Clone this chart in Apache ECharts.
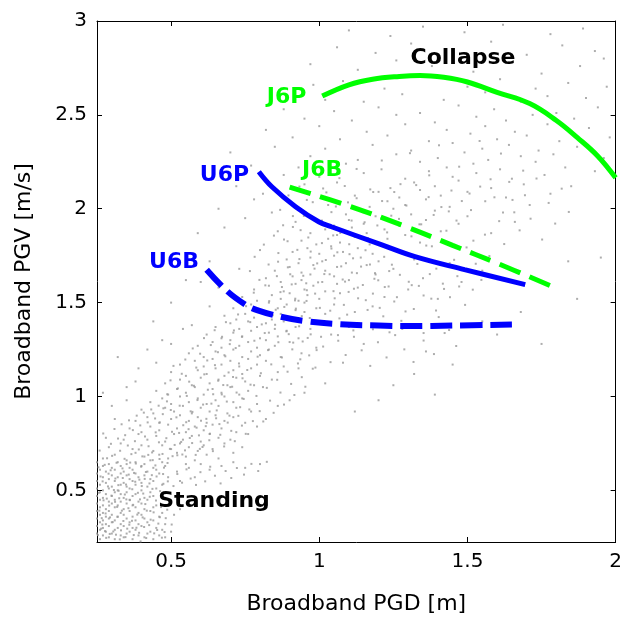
<!DOCTYPE html>
<html><head><meta charset="utf-8">
<script src="https://cdn.jsdelivr.net/npm/echarts@6/dist/echarts.min.js"></script>
<style>html,body{margin:0;padding:0;background:#fff}#c{width:625px;height:620px}</style>
</head><body><div id="c"></div>
<script>
// axis ranges and ticks
const xMin = 0.25, xMax = 2, yMin = 0.225, yMax = 3;
const xTicks = [0.5, 1, 1.5, 2];
const yTicks = [0.5, 1, 1.5, 2, 2.5, 3];
const xTitle = 'Broadband PGD [m]';
const yTitle = 'Broadband PGV [m/s]';

// model curves
const j6pX = [1.01,1.10,1.18,1.27,1.34,1.42,1.50,1.60,1.71,1.80,1.87,1.94,2.0];
const j6pY = [2.60,2.66,2.69,2.705,2.71,2.70,2.675,2.62,2.56,2.47,2.38,2.28,2.165];
const j6bX = [0.90,1.10,1.30,1.45,1.60,1.78];
const j6bY = [2.115,2.015,1.90,1.805,1.71,1.59];
const u6pX = [0.796,0.84,0.92,0.998,1.041,1.209,1.323,1.49,1.695];
const u6pY = [2.197,2.117,2.011,1.931,1.904,1.809,1.745,1.676,1.596];
const u6bX = [0.62,0.69,0.75,0.79,0.87,0.96,1.07,1.20,1.31,1.45,1.65];
const u6bY = [1.675,1.56,1.49,1.46,1.425,1.40,1.385,1.378,1.375,1.378,1.383];

// annotations
const noteText = ['J6P','J6B','U6P','U6B','Collapse','Standing'];
const noteX = [0.89,1.01,0.68,0.51,1.485,0.645];
const noteY = [2.596,2.207,2.176,1.715,2.803,0.441];
const noteColor = ['#00ff00','#00ff00','#0000ff','#0000ff','#000000','#000000'];

// scattered simulation points (x,y pairs)
const cloudCore = [
0.26,0.24,0.29,0.25,0.31,0.24,0.34,0.25,0.37,0.24,0.41,0.25,0.44,0.24,0.48,0.25,
0.25,0.27,0.27,0.26,0.30,0.27,0.33,0.26,0.35,0.27,0.39,0.26,0.42,0.27,0.46,0.26,
0.26,0.29,0.28,0.28,0.31,0.29,0.36,0.28,0.38,0.29,0.43,0.28,0.47,0.29,0.50,0.28,
0.25,0.31,0.27,0.30,0.29,0.31,0.32,0.30,0.34,0.31,0.37,0.30,0.40,0.31,0.45,0.30,
0.26,0.33,0.28,0.32,0.30,0.33,0.33,0.32,0.36,0.33,0.39,0.32,0.42,0.33,0.48,0.32,
0.25,0.35,0.27,0.34,0.29,0.35,0.31,0.34,0.35,0.35,0.38,0.34,0.41,0.35,0.44,0.34,
0.26,0.37,0.28,0.36,0.30,0.37,0.32,0.36,0.34,0.37,0.37,0.36,0.40,0.37,0.46,0.36,0.51,0.37,
0.25,0.39,0.27,0.38,0.29,0.39,0.33,0.38,0.36,0.39,0.39,0.38,0.43,0.39,0.47,0.38,
0.26,0.41,0.28,0.40,0.31,0.41,0.34,0.40,0.38,0.41,0.41,0.40,0.44,0.41,0.53,0.40,
0.25,0.43,0.27,0.42,0.30,0.43,0.32,0.42,0.35,0.43,0.37,0.42,0.40,0.43,0.45,0.42,
0.26,0.45,0.29,0.44,0.31,0.45,0.33,0.44,0.36,0.45,0.39,0.44,0.42,0.45,
0.25,0.47,0.27,0.46,0.30,0.47,0.34,0.46,0.37,0.47,0.41,0.46,0.44,0.47,
0.26,0.49,0.28,0.48,0.31,0.49,0.33,0.48,0.35,0.49,0.38,0.48,0.43,0.49,
0.25,0.51,0.27,0.50,0.29,0.51,0.32,0.50,0.36,0.51,0.40,0.50,0.45,0.51,
0.26,0.53,0.30,0.52,0.33,0.53,0.35,0.52,0.38,0.53,0.42,0.52,0.47,0.53,
0.25,0.55,0.28,0.54,0.31,0.55,0.34,0.54,0.37,0.55,0.40,0.54,0.44,0.55,0.53,0.55,
0.27,0.57,0.29,0.56,0.32,0.57,0.36,0.56,0.39,0.57,0.43,0.56,0.49,0.57,0.58,0.57,
0.25,0.59,0.30,0.58,0.33,0.59,0.35,0.58,0.38,0.59,0.41,0.58,0.46,0.59,
0.26,0.61,0.28,0.60,0.31,0.61,0.34,0.60,0.37,0.61,0.42,0.60,0.45,0.61,0.52,0.60,0.63,0.61,
0.27,0.63,0.30,0.62,0.33,0.63,0.36,0.62,0.40,0.63,0.44,0.62,0.48,0.63,0.56,0.62,0.67,0.63,0.75,0.62,
0.25,0.65,0.29,0.64,0.32,0.65,0.35,0.64,0.38,0.65,0.41,0.64,0.47,0.65,0.55,0.64,0.60,0.64,0.71,0.65,0.80,0.64
];
const cloudCore2 = [
0.253,0.262,0.268,0.318,0.281,0.247,0.294,0.356,0.305,0.281,0.318,0.412,0.327,0.239,0.339,0.337,0.352,0.296,0.361,0.448,
0.374,0.262,0.386,0.371,0.397,0.228,0.409,0.305,0.418,0.392,0.431,0.344,0.443,0.271,0.457,0.323,0.469,0.248,0.482,0.352,
0.258,0.392,0.272,0.447,0.287,0.521,0.299,0.472,0.312,0.563,0.323,0.498,0.336,0.617,0.348,0.531,0.357,0.584,0.369,0.506,
0.381,0.643,0.393,0.557,0.406,0.483,0.415,0.598,0.427,0.537,0.438,0.661,0.451,0.574,0.463,0.496,0.476,0.621,0.489,0.548,
0.262,0.574,0.276,0.636,0.289,0.589,0.301,0.684,0.316,0.647,0.328,0.711,0.343,0.668,0.354,0.739,0.366,0.693,0.378,0.762,
0.391,0.718,0.403,0.681,0.412,0.787,0.424,0.735,0.436,0.702,0.448,0.809,0.459,0.756,0.471,0.694,0.484,0.778,0.496,0.721,
0.256,0.487,0.266,0.352,0.277,0.283,0.291,0.419,0.303,0.331,0.314,0.264,0.325,0.458,0.334,0.392,0.346,0.251,0.359,0.317,
0.372,0.423,0.383,0.301,0.395,0.452,0.404,0.356,0.416,0.246,0.428,0.466,0.441,0.383,0.453,0.289,0.466,0.411,0.478,0.278,
0.259,0.712,0.271,0.803,0.284,0.671,0.297,0.748,0.309,0.827,0.321,0.776,0.333,0.852,0.345,0.794,0.358,0.873,0.371,0.821,
0.384,0.898,0.396,0.846,0.408,0.914,0.421,0.862,0.433,0.931,0.446,0.883,0.458,0.951,0.472,0.906,0.486,0.974,0.499,0.928,
0.264,0.296,0.279,0.377,0.293,0.268,0.307,0.502,0.319,0.359,0.331,0.287,0.344,0.478,0.356,0.405,0.368,0.338,0.379,0.546,
0.392,0.274,0.401,0.523,0.413,0.427,0.426,0.315,0.437,0.508,0.449,0.446,0.462,0.357,0.474,0.535,0.487,0.397,0.502,0.318,
0.255,0.623,0.269,0.548,0.283,0.456,0.296,0.607,0.311,0.439,0.322,0.528,0.337,0.566,0.349,0.452,0.362,0.648,0.375,0.593,
0.388,0.487,0.399,0.626,0.411,0.561,0.423,0.689,0.435,0.581,0.447,0.633,0.461,0.667,0.473,0.587,0.488,0.646,0.505,0.682,
0.508,0.523,0.521,0.587,0.537,0.541,0.552,0.612,0.566,0.563,0.584,0.529,0.599,0.597,0.615,0.548,0.632,0.626,0.648,0.578,
0.667,0.537,0.684,0.603,0.703,0.566,0.722,0.619,0.746,0.584,0.771,0.641,0.794,0.603,0.823,0.652
];
const cloudBand = [
0.27,0.67,0.31,0.69,0.35,0.66,0.38,0.70,0.41,0.68,0.43,0.66,0.46,0.69,0.49,0.67,0.52,0.70,0.55,0.68,0.58,0.66,0.62,0.69,0.66,0.67,0.71,0.70,
0.29,0.73,0.33,0.75,0.37,0.72,0.40,0.74,0.44,0.71,0.47,0.74,0.50,0.72,0.53,0.75,0.56,0.73,0.59,0.71,0.61,0.74,0.64,0.72,0.68,0.75,0.74,0.73,
0.28,0.78,0.34,0.77,0.39,0.80,0.42,0.77,0.45,0.79,0.48,0.76,0.51,0.80,0.54,0.77,0.57,0.79,0.60,0.76,0.63,0.80,0.66,0.78,0.70,0.77,0.76,0.80,
0.36,0.83,0.40,0.81,0.43,0.84,0.46,0.82,0.49,0.85,0.52,0.83,0.55,0.81,0.58,0.84,0.61,0.82,0.64,0.85,0.67,0.83,0.72,0.81,0.79,0.84,
0.31,0.88,0.38,0.87,0.42,0.89,0.46,0.86,0.50,0.88,0.53,0.90,0.56,0.87,0.59,0.89,0.62,0.86,0.65,0.90,0.68,0.87,0.71,0.89,0.75,0.86,0.82,0.88,
0.40,0.93,0.44,0.91,0.48,0.94,0.51,0.92,0.54,0.95,0.57,0.91,0.60,0.94,0.63,0.92,0.66,0.95,0.69,0.91,0.72,0.94,0.77,0.92,0.86,0.95,
0.35,0.98,0.43,0.97,0.47,0.99,0.50,0.96,0.53,1.00,0.56,0.97,0.59,0.99,0.62,0.96,0.65,0.98,0.68,1.00,0.71,0.97,0.74,0.99,0.79,0.96,0.90,0.98,
0.45,1.03,0.49,1.01,0.52,1.04,0.55,1.02,0.58,1.05,0.61,1.01,0.64,1.04,0.67,1.02,0.70,1.05,0.73,1.01,0.76,1.03,0.81,1.05,0.95,1.02,
0.38,1.08,0.48,1.07,0.53,1.09,0.57,1.06,0.60,1.10,0.63,1.07,0.66,1.09,0.69,1.06,0.72,1.10,0.75,1.08,0.78,1.06,0.84,1.09,1.02,1.07,
0.50,1.13,0.55,1.11,0.59,1.14,0.62,1.12,0.65,1.15,0.68,1.11,0.71,1.14,0.74,1.12,0.77,1.15,0.80,1.11,0.86,1.13,0.93,1.15,
0.45,1.18,0.53,1.17,0.58,1.19,0.61,1.16,0.64,1.20,0.67,1.17,0.70,1.19,0.73,1.16,0.76,1.20,0.79,1.17,0.82,1.19,0.88,1.16,1.08,1.18,
0.56,1.23,0.61,1.21,0.65,1.24,0.68,1.22,0.71,1.25,0.74,1.21,0.77,1.24,0.80,1.22,0.83,1.25,0.87,1.21,0.94,1.23,
0.50,1.28,0.59,1.27,0.64,1.29,0.67,1.26,0.70,1.30,0.73,1.27,0.76,1.29,0.79,1.26,0.82,1.30,0.85,1.27,0.90,1.29,0.99,1.26,1.15,1.28,
0.62,1.33,0.67,1.31,0.71,1.34,0.74,1.32,0.77,1.35,0.80,1.31,0.83,1.34,0.86,1.32,0.89,1.35,0.93,1.31,1.04,1.33,
0.57,1.38,0.65,1.37,0.70,1.39,0.73,1.36,0.76,1.40,0.79,1.37,0.82,1.39,0.85,1.36,0.88,1.40,0.92,1.37,0.97,1.36,1.10,1.37,1.28,1.36,
0.68,1.43,0.72,1.41,0.75,1.44,0.78,1.42,0.81,1.45,0.84,1.41,0.87,1.44,0.90,1.42,0.95,1.45,1.02,1.44,1.12,1.45,
0.63,1.48,0.71,1.47,0.77,1.49,0.80,1.46,0.83,1.50,0.86,1.47,0.89,1.49,0.92,1.46,0.95,1.50,0.99,1.47,1.05,1.49,1.18,1.48,
0.74,1.53,0.79,1.51,0.84,1.54,0.87,1.52,0.90,1.55,0.93,1.51,0.96,1.54,1.00,1.52,1.07,1.55,1.22,1.53,1.40,1.52,
0.66,1.58,0.78,1.57,0.83,1.59,0.88,1.56,0.92,1.60,0.95,1.57,0.98,1.59,1.02,1.56,1.06,1.60,1.13,1.58,1.30,1.57,
0.82,1.63,0.87,1.61,0.91,1.64,0.94,1.62,0.97,1.65,1.01,1.61,1.05,1.64,1.10,1.62,1.19,1.65,1.35,1.63,1.48,1.61,
0.73,1.68,0.85,1.67,0.90,1.69,0.94,1.66,0.98,1.70,1.02,1.67,1.06,1.69,1.11,1.66,1.16,1.70,1.25,1.68,1.55,1.67,
0.89,1.73,0.93,1.71,0.97,1.74,1.01,1.72,1.05,1.75,1.09,1.71,1.14,1.74,1.20,1.72,1.32,1.73,1.44,1.71,
0.80,1.78,0.91,1.77,0.96,1.79,1.00,1.76,1.04,1.80,1.08,1.77,1.13,1.79,1.18,1.76,1.27,1.78,1.38,1.80,
0.94,1.83,0.99,1.81,1.03,1.84,1.07,1.82,1.12,1.85,1.17,1.81,1.23,1.84,1.34,1.82,1.52,1.83,
0.86,1.88,0.97,1.87,1.02,1.89,1.06,1.86,1.11,1.90,1.16,1.87,1.22,1.89,1.29,1.86,1.41,1.88,1.58,1.87,
0.92,1.93,1.05,1.91,1.10,1.94,1.15,1.92,1.21,1.95,1.27,1.91,1.36,1.94,1.47,1.92,1.66,1.93,
0.84,1.98,1.09,1.97,1.14,1.99,1.19,1.96,1.25,2.00,1.31,1.97,1.39,1.99,1.50,1.96,1.62,1.98
];
const cloudBand2 = [
0.512,0.742,0.527,0.806,0.538,0.691,0.551,0.863,0.563,0.779,0.572,0.918,0.586,0.834,0.597,0.721,0.608,0.957,0.619,0.881,
0.631,0.802,0.642,1.012,0.654,0.926,0.663,0.853,0.676,1.061,0.688,0.973,0.697,0.898,0.709,1.104,0.721,1.021,0.733,0.943,
0.518,0.889,0.529,0.951,0.541,0.847,0.553,1.003,0.566,0.921,0.577,1.057,0.589,0.981,0.601,0.871,0.612,1.118,0.624,1.036,
0.636,0.962,0.648,1.167,0.659,1.084,0.671,1.011,0.683,1.214,0.694,1.128,0.706,1.052,0.718,1.258,0.729,1.176,0.741,1.097,
0.745,0.987,0.757,1.141,0.768,1.063,0.781,1.297,0.792,1.212,0.803,1.124,0.816,1.338,0.827,1.247,0.838,1.171,0.851,1.382,
0.862,1.289,0.874,1.208,0.886,1.423,0.897,1.332,0.909,1.251,0.921,1.468,0.932,1.374,0.944,1.293,0.957,1.509,0.968,1.418,
0.503,0.812,0.521,0.687,0.534,0.758,0.547,0.713,0.559,0.826,0.571,0.752,0.583,0.689,0.594,0.793,0.606,0.731,0.617,0.842,
0.629,0.767,0.641,0.709,0.652,0.884,0.666,0.796,0.679,0.734,0.691,0.861,0.703,0.817,0.715,0.762,0.727,0.897,0.739,0.845,
0.752,0.801,0.764,0.931,0.776,0.869,0.788,1.003,0.799,0.922,0.811,0.867,0.823,1.046,0.834,0.978,0.846,0.913,0.858,1.089,
0.869,1.021,0.881,0.957,0.893,1.132,0.905,1.067,0.916,1.008,0.928,1.176,0.941,1.103,0.953,1.052,0.966,1.219,0.978,1.148,
0.462,0.862,0.474,0.937,0.487,1.012,0.498,1.086,0.508,1.163,0.523,1.043,0.536,1.121,0.548,1.197,0.561,1.079,0.573,1.256,
0.585,1.154,0.598,1.228,0.611,1.311,0.622,1.192,0.634,1.274,0.647,1.353,0.658,1.236,0.672,1.318,0.685,1.396,0.698,1.279
];
const cloudBand3 = [
0.712,1.352,0.726,1.437,0.739,1.318,0.753,1.481,0.767,1.396,0.779,1.553,0.793,1.467,0.806,1.384,0.818,1.592,0.831,1.508,
0.843,1.433,0.857,1.641,0.869,1.556,0.882,1.477,0.894,1.688,0.907,1.597,0.919,1.521,0.933,1.732,0.946,1.643,0.958,1.566,
0.971,1.772,0.984,1.681,0.996,1.608,1.009,1.817,1.022,1.727,1.035,1.651,1.047,1.858,1.061,1.768,1.074,1.693,1.087,1.612,
1.101,1.811,1.114,1.736,1.127,1.657,1.141,1.846,1.156,1.779,1.171,1.703,1.186,1.627,1.202,1.818,1.219,1.744,1.236,1.668,
0.991,1.247,1.006,1.318,1.021,1.386,1.037,1.457,1.052,1.523,1.068,1.416,1.083,1.488,1.099,1.557,1.115,1.352,1.131,1.523,
1.147,1.594,1.163,1.461,1.181,1.548,1.199,1.619,1.216,1.427,1.234,1.586,1.253,1.506,1.272,1.648,1.291,1.453,1.312,1.593,
0.766,1.668,0.782,1.744,0.798,1.621,0.813,1.809,0.829,1.703,0.847,1.857,0.862,1.764,0.878,1.912,0.893,1.827,0.911,1.961,
1.331,1.706,1.352,1.538,1.373,1.652,1.394,1.458,1.417,1.601,1.441,1.529,1.466,1.641,1.492,1.488,1.518,1.569,1.547,1.621
];
const cloudMid = [
0.853,1.462,0.861,1.718,0.868,1.994,0.874,1.583,0.881,1.836,0.889,1.347,0.896,2.071,0.902,1.651,0.911,1.903,0.918,1.512,
0.926,1.781,0.933,2.118,0.941,1.428,0.948,1.962,0.956,1.603,0.963,1.847,0.971,1.331,0.978,2.035,0.986,1.548,0.993,1.709,
1.002,1.472,1.009,1.937,1.017,1.652,1.024,2.087,1.032,1.395,1.041,1.788,1.048,1.561,1.056,2.012,1.063,1.327,1.071,1.871,
1.079,1.623,1.086,2.121,1.094,1.436,1.102,1.758,1.109,1.937,1.117,1.574,1.126,2.056,1.133,1.391,1.141,1.692,1.149,1.981,
1.157,1.513,1.164,1.844,1.172,2.103,1.181,1.358,1.188,1.657,1.196,1.911,1.204,1.472,1.212,2.041,1.221,1.583,1.229,1.874,
1.237,1.342,1.245,1.702,1.253,2.089,1.262,1.529,1.269,1.946,1.277,1.403,1.286,1.768,1.294,2.017,1.302,1.611,1.311,1.853,
1.319,1.466,1.327,2.126,1.336,1.589,1.344,1.917,1.352,1.338,1.361,1.804,1.369,2.062,1.378,1.521,1.386,1.967,1.395,1.681,
1.403,1.423,1.412,2.009,1.421,1.573,1.429,1.883,1.438,1.354,1.446,2.097,1.455,1.728,1.463,1.937,1.472,1.586,1.481,2.041,
1.497,1.794,1.512,1.993,1.528,1.707,1.543,2.118,1.559,1.862,1.574,1.748,1.591,2.061,1.607,1.934,1.624,1.812,1.641,2.143,
1.658,1.981,1.676,1.885,1.694,2.072,1.713,1.947,1.733,2.161,1.752,1.836,1.774,2.031,1.796,1.921,1.818,2.107,1.842,1.983,
0.912,1.287,0.936,1.198,0.961,1.312,0.987,1.154,1.013,1.266,1.038,1.183,1.064,1.297,1.089,1.221,1.117,1.318,1.143,1.246,
1.172,1.163,1.198,1.289,1.227,1.208,1.256,1.327,1.287,1.251,1.318,1.184,1.352,1.298,1.387,1.226,1.423,1.338,1.462,1.269
];
const cloudUpper = [
0.90,2.03,1.03,2.02,1.17,2.01,1.23,2.04,1.29,2.02,1.36,2.05,1.44,2.01,1.56,2.04,1.71,2.02,
0.81,2.08,1.12,2.07,1.20,2.09,1.27,2.06,1.34,2.10,1.41,2.07,1.50,2.09,1.63,2.06,1.78,2.08,
0.95,2.13,1.06,2.14,1.24,2.11,1.32,2.14,1.39,2.12,1.47,2.15,1.58,2.11,1.69,2.13,1.85,2.12,
0.88,2.18,1.00,2.17,1.15,2.19,1.29,2.16,1.37,2.20,1.45,2.17,1.53,2.19,1.65,2.16,1.76,2.18,1.93,2.20,
0.77,2.23,0.93,2.22,1.09,2.24,1.21,2.21,1.34,2.25,1.43,2.22,1.52,2.24,1.61,2.21,1.73,2.25,1.83,2.22,
0.70,2.30,0.97,2.28,1.13,2.26,1.26,2.29,1.40,2.27,1.49,2.30,1.57,2.26,1.68,2.28,1.79,2.29,1.96,2.27,
0.85,2.33,1.02,2.32,1.18,2.34,1.31,2.31,1.45,2.35,1.55,2.32,1.64,2.34,1.74,2.31,1.87,2.33,
0.91,2.38,1.07,2.37,1.23,2.39,1.37,2.36,1.51,2.40,1.60,2.37,1.70,2.39,1.81,2.36,1.98,2.38,
0.82,2.42,1.00,2.44,1.16,2.41,1.29,2.45,1.43,2.42,1.56,2.44,1.66,2.41,1.77,2.45,1.91,2.43,
0.95,2.48,1.11,2.47,1.26,2.50,1.39,2.46,1.53,2.49,1.63,2.47,1.72,2.50,1.86,2.48,
0.88,2.53,1.05,2.52,1.20,2.54,1.34,2.51,1.47,2.55,1.59,2.53,1.80,2.51,1.94,2.54,
1.02,2.58,1.15,2.57,1.28,2.61,1.42,2.58,1.56,2.62,1.68,2.57,1.77,2.60,1.90,2.59,
0.98,2.66,1.08,2.68,1.22,2.64,1.50,2.65,1.61,2.69,1.73,2.64,1.84,2.67,1.97,2.65,
0.97,2.77,1.13,2.74,1.26,2.79,1.38,2.76,1.52,2.73,1.64,2.78,1.75,2.72,1.88,2.76,1.96,2.80,
1.06,2.86,1.19,2.83,1.31,2.88,1.45,2.84,1.58,2.89,1.70,2.82,1.82,2.87,1.93,2.84,
1.10,2.95,1.24,2.92,1.35,2.97,1.49,2.94,1.62,2.98,1.78,2.93,1.89,2.96,
0.937,1.886,0.958,2.047,0.981,1.944,1.013,2.108,1.041,1.982,1.068,2.163,1.097,2.034,1.126,2.212,1.153,1.928,1.182,2.089,
1.211,2.257,1.243,1.963,1.274,2.131,1.306,2.296,1.338,1.917,1.371,2.178,1.404,2.338,1.437,1.986,1.472,2.224,1.507,2.081,
1.541,2.361,1.578,2.157,1.613,2.294,1.652,2.047,1.688,2.203
];
const cloudSparse = [
0.32,1.21,0.39,1.15,0.47,1.30,0.54,1.36,0.30,0.95,0.27,1.02,0.35,1.05,0.42,1.25,0.44,1.40,0.50,1.50,
0.59,1.87,0.60,1.61,0.72,2.12,0.55,1.62,0.63,1.72,0.68,1.90,0.66,2.00,0.75,1.95,0.78,2.05,
1.39,1.01,1.75,1.28,1.32,1.12,1.25,1.06,1.45,1.17,1.60,1.33,1.68,1.45,1.95,1.74,1.84,1.72,1.87,1.52,
1.20,0.98,1.12,0.92,1.55,1.40,1.36,1.24
];

function pairs(flat){const out=[];for(let i=0;i<flat.length;i+=2)out.push([flat[i],flat[i+1]]);return out;}
function zip(xs,ys){return xs.map((x,i)=>[x,ys[i]]);}

const chart = echarts.init(document.getElementById('c'), null, {renderer:'canvas'});
const FONT = 'DejaVu Sans';
const xAxisCfg = (pos, labels) => ({
  type:'value', position:pos, min:xMin, max:xMax,
  axisLine:{show:true, onZero:false, lineStyle:{color:'#000', width:1}},
  splitLine:{show:false},
  axisTick:{show:true, inside:true, length:5, lineStyle:{color:'#000'}, customValues:xTicks},
  axisLabel:{show:labels, customValues:xTicks, color:'#000', fontFamily:FONT, fontSize:20, margin:10},
  name: labels ? xTitle : '', nameLocation:'middle', nameGap:51,
  nameTextStyle:{color:'#000', fontFamily:FONT, fontSize:22}
});
const yAxisCfg = (pos, labels) => ({
  type:'value', position:pos, min:yMin, max:yMax,
  axisLine:{show:true, onZero:false, lineStyle:{color:'#000', width:1}},
  splitLine:{show:false},
  axisTick:{show:true, inside:true, length:5, lineStyle:{color:'#000'}, customValues:yTicks},
  axisLabel:{show:labels, customValues:yTicks, color:'#000', fontFamily:FONT, fontSize:20, margin:10},
  name: labels ? yTitle : '', nameLocation:'middle', nameGap:62,
  nameTextStyle:{color:'#000', fontFamily:FONT, fontSize:22}
});

const dots = [cloudCore, cloudCore2, cloudBand, cloudBand2, cloudBand3, cloudMid, cloudUpper, cloudSparse]
  .reduce((acc, a) => acc.concat(pairs(a)), []);

chart.setOption({
  animation:false,
  backgroundColor:'#fff',
  grid:{left:97, right:5, top:21, bottom:77},
  xAxis:[xAxisCfg('bottom', true), xAxisCfg('top', false)],
  yAxis:[yAxisCfg('left', true), yAxisCfg('right', false)],
  series:[
    {type:'scatter', data:dots, symbol:'rect', symbolSize:2, silent:true, z:1,
     itemStyle:{color:'#999999'}},
    {type:'line', data:zip(u6bX,u6bY), smooth:0.4, showSymbol:false, silent:true, z:3,
     lineStyle:{color:'#0000ff', width:6, type:[22,8], cap:'butt'}},
    {type:'line', data:zip(u6pX,u6pY), smooth:0.4, showSymbol:false, silent:true, z:3,
     lineStyle:{color:'#0000ff', width:5}},
    {type:'line', data:zip(j6bX,j6bY), smooth:0.4, showSymbol:false, silent:true, z:3,
     lineStyle:{color:'#00ff00', width:5, type:[22,10], cap:'butt'}},
    {type:'line', data:zip(j6pX,j6pY), smooth:0.4, showSymbol:false, silent:true, z:3,
     lineStyle:{color:'#00ff00', width:5}}
  ]
});

// text annotations placed through the chart's own coordinate conversion
const notes = noteText.map((t, i) => {
  const p = chart.convertToPixel({xAxisIndex:0, yAxisIndex:0}, [noteX[i], noteY[i]]);
  return {type:'text', x:p[0], y:p[1], z:100, silent:true,
    style:{text:t, fill:noteColor[i], font:'bold 22px "DejaVu Sans"',
           align:'center', verticalAlign:'middle'}};
});
chart.setOption({graphic:notes});
</script></body></html>
